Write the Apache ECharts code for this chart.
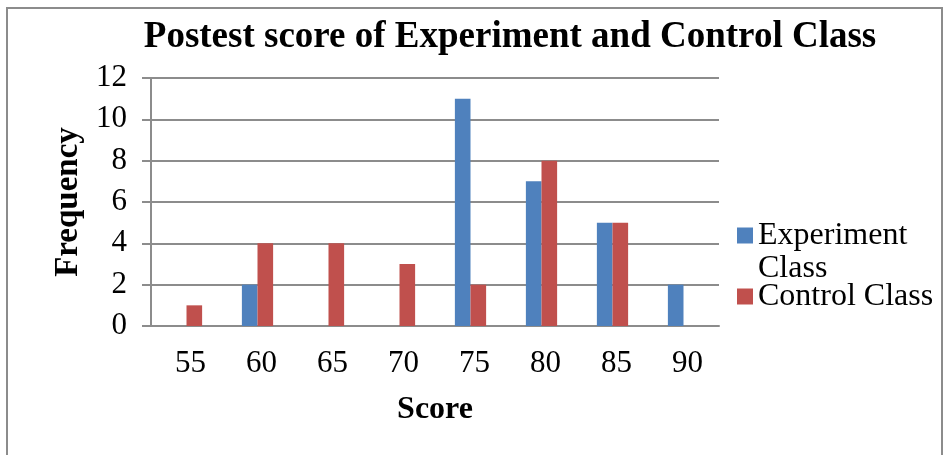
<!DOCTYPE html>
<html>
<head>
<meta charset="utf-8">
<title>Postest score</title>
<script src="https://cdn.jsdelivr.net/npm/echarts@6/dist/echarts.min.js"></script>
<style>
  html, body { margin: 0; padding: 0; background: #fff; }
  #chart { width: 944px; height: 455px; }
</style>
</head>
<body>
<div id="chart"></div>
<script>
// Chart data
const scores = ['55', '60', '65', '70', '75', '80', '85', '90'];
const experiment = [0, 2, 0, 0, 11, 7, 5, 2];
const control = [1, 4, 4, 3, 2, 8, 5, 0];
const yTicks = { min: 0, max: 12, interval: 2 };

const FONT = '"Liberation Serif", "DejaVu Serif", serif';
const GRID_COLOR = '#8c8c8c';

const chart = echarts.init(document.getElementById('chart'), null, { renderer: 'canvas' });

// legend text style shared by both items
const legendText = { fontFamily: FONT, fontSize: 32, color: '#000', lineHeight: 33 };

chart.setOption({
  backgroundColor: '#fff',
  animation: false,
  textStyle: { fontFamily: FONT, color: '#000' },
  title: {
    text: 'Postest score of Experiment and Control Class',
    left: 505,
    textAlign: 'center',
    top: 14,
    textStyle: { fontFamily: FONT, fontSize: 37, fontWeight: 'bold', color: '#000' },
  },
  grid: { left: 151, right: 225, top: 78, bottom: 129 },
  xAxis: {
    type: 'category',
    data: scores,
    name: 'Score',
    nameLocation: 'middle',
    nameGap: 68,
    nameTextStyle: { fontFamily: FONT, fontSize: 32, fontWeight: 'bold', color: '#000' },
    axisLine: { lineStyle: { color: GRID_COLOR, width: 2 } },
    axisTick: { show: false },
    axisLabel: { fontFamily: FONT, fontSize: 31, color: '#000', margin: 22, padding: [0, 0, 0, 8] },
  },
  yAxis: {
    type: 'value',
    min: yTicks.min,
    max: yTicks.max,
    interval: yTicks.interval,
    name: 'Frequency',
    nameLocation: 'middle',
    nameRotate: 90,
    nameGap: 66,
    nameTextStyle: { fontFamily: FONT, fontSize: 33, fontWeight: 'bold', color: '#000' },
    axisLine: { show: true, lineStyle: { color: GRID_COLOR, width: 2 } },
    axisTick: { show: true, length: 9, lineStyle: { color: GRID_COLOR, width: 2 } },
    splitLine: { lineStyle: { color: GRID_COLOR, width: 2 } },
    axisLabel: { fontFamily: FONT, fontSize: 31, color: '#000', margin: 24 },
  },
  legend: [
    {
      // empty first line keeps "Experiment" level with the swatch
      data: ['Experiment Class'],
      formatter: () => '\nExperiment\nClass',
      orient: 'vertical',
      left: 737,
      top: 186,
      padding: 0,
      itemWidth: 16,
      itemHeight: 16,
      icon: 'rect',
      textStyle: legendText,
    },
    {
      data: ['Control Class'],
      orient: 'vertical',
      left: 737,
      top: 280,
      padding: 0,
      itemWidth: 16,
      itemHeight: 16,
      icon: 'rect',
      textStyle: legendText,
    },
  ],
  series: [
    {
      name: 'Experiment Class',
      type: 'bar',
      data: experiment,
      barGap: '0%',
      barCategoryGap: '56%',
      itemStyle: { color: '#4F81BD' },
    },
    {
      name: 'Control Class',
      type: 'bar',
      data: control,
      barGap: '0%',
      barCategoryGap: '56%',
      itemStyle: { color: '#C0504D' },
    },
  ],
  graphic: [{
    type: 'rect',
    shape: { x: 7, y: 8, width: 935, height: 470 },
    style: { fill: null, stroke: '#8c8c8c', lineWidth: 2 },
    silent: true,
  }],
});
</script>
</body>
</html>
